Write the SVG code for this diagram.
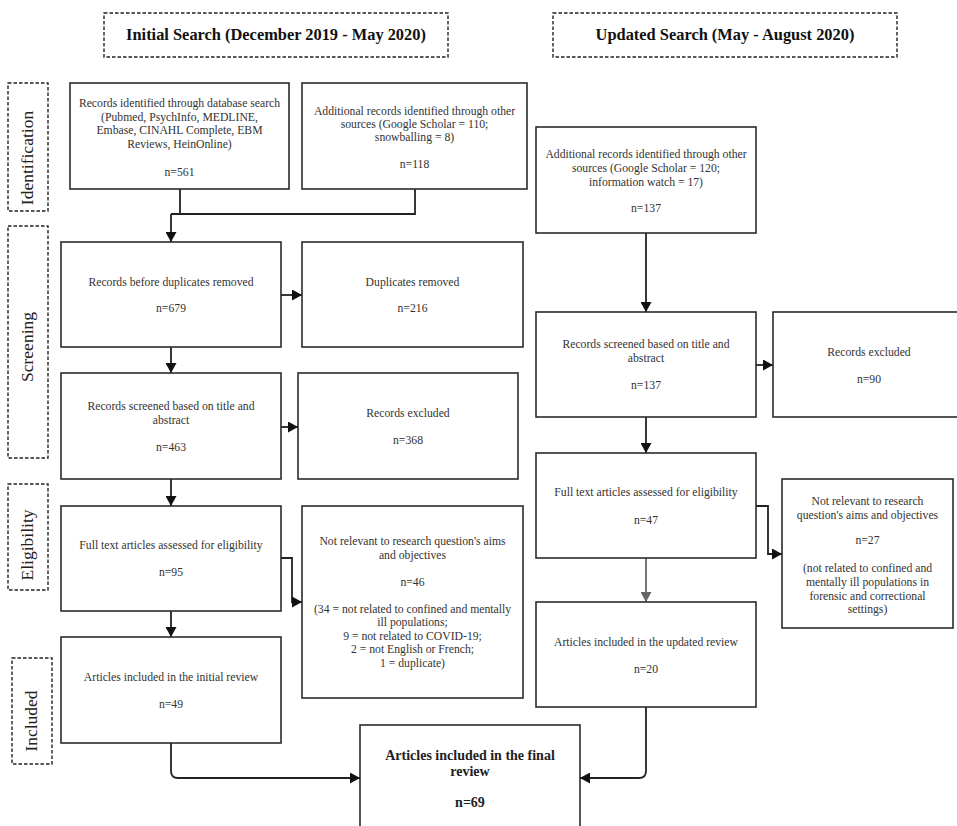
<svg xmlns="http://www.w3.org/2000/svg" width="957" height="826" viewBox="0 0 957 826">
<style>
.box{fill:#fff;stroke:#2b2b2b;stroke-width:1.6}
.dash{fill:#fff;stroke:#222;stroke-width:1.4;stroke-dasharray:3.5 2}
.t{font-family:"Liberation Serif","Times New Roman",serif;font-size:11.7px;fill:#333;text-anchor:middle}
.h{font-family:"Liberation Serif","Times New Roman",serif;font-size:16.4px;font-weight:bold;fill:#111;text-anchor:middle}
.lbl{font-family:"Liberation Serif","Times New Roman",serif;font-size:17.5px;fill:#222;text-anchor:middle}
.fb{font-family:"Liberation Serif","Times New Roman",serif;font-size:14px;font-weight:bold;fill:#222;text-anchor:middle}
.c{fill:none;stroke:#222;stroke-width:1.8}
.cg{fill:none;stroke:#666;stroke-width:1.8}
</style>
<defs>
<marker id="ah" markerUnits="userSpaceOnUse" markerWidth="10" markerHeight="11" refX="10" refY="5.5" orient="auto"><path d="M0,0 L10,5.5 L0,11 z" fill="#111"/></marker>
<marker id="ahg" markerUnits="userSpaceOnUse" markerWidth="10" markerHeight="11" refX="10" refY="5.5" orient="auto"><path d="M0,0 L10,5.5 L0,11 z" fill="#666"/></marker>
</defs>
<rect width="957" height="826" fill="#fff"/>

<g id="header-initial"><rect class="dash" x="104" y="13" width="344" height="44"/><text class="h" x="276" y="40">Initial Search (December 2019 - May 2020)</text></g>
<g id="header-updated"><rect class="dash" x="553" y="13" width="344" height="44"/><text class="h" x="725" y="40">Updated Search (May - August 2020)</text></g>

<g id="label-identification"><rect class="dash" x="8" y="83" width="40" height="128"/><text class="lbl" transform="translate(33,158) rotate(-90)">Identification</text></g>
<g id="label-screening"><rect class="dash" x="8" y="226" width="40" height="232"/><text class="lbl" transform="translate(33,347) rotate(-90)">Screening</text></g>
<g id="label-eligibility"><rect class="dash" x="8" y="484" width="40" height="106"/><text class="lbl" transform="translate(33,545) rotate(-90)">Eligibility</text></g>
<g id="label-included"><rect class="dash" x="12" y="658" width="40" height="106"/><text class="lbl" transform="translate(37,721) rotate(-90)">Included</text></g>

<g id="connectors">
<path class="c" d="M180,189 V214 M415,189 V214 H171"/>
<path class="c" d="M171,214 V242" marker-end="url(#ah)"/>
<path class="c" d="M281,295 H302" marker-end="url(#ah)"/>
<path class="c" d="M171,347 V373" marker-end="url(#ah)"/>
<path class="c" d="M281,427 H298" marker-end="url(#ah)"/>
<path class="c" d="M171,479 V506" marker-end="url(#ah)"/>
<path class="c" d="M281,558 H292 V602 H302" marker-end="url(#ah)"/>
<path class="c" d="M171,611 V637" marker-end="url(#ah)"/>
<path class="c" d="M171,743 V771 Q171,778 178,778 H360" marker-end="url(#ah)"/>
<path class="c" d="M646,233 V312" marker-end="url(#ah)"/>
<path class="c" d="M756,365 H773" marker-end="url(#ah)"/>
<path class="c" d="M646,417 V453" marker-end="url(#ah)"/>
<path class="c" d="M756,506 H768 V554 H782" marker-end="url(#ah)"/>
<path class="cg" d="M646,558 V602" marker-end="url(#ahg)"/>
<path class="c" d="M646,707 V771 Q646,778 639,778 H580" marker-end="url(#ah)"/>
</g>

<g id="db-search"><rect class="box" x="70" y="83" width="219" height="106"/>
<text class="t" x="179.5" y="107">Records identified through database search</text>
<text class="t" x="179.5" y="121">(Pubmed,  PsychInfo, MEDLINE,</text>
<text class="t" x="179.5" y="134">Embase, CINAHL Complete, EBM</text>
<text class="t" x="179.5" y="148">Reviews, HeinOnline)</text>
<text class="t" x="179.5" y="176">n=561</text></g>

<g id="other-sources"><rect class="box" x="302" y="83" width="225" height="106"/>
<text class="t" x="414.5" y="115">Additional records identified through other</text>
<text class="t" x="414.5" y="128">sources (Google Scholar = 110;</text>
<text class="t" x="414.5" y="141">snowballing = 8)</text>
<text class="t" x="414.5" y="168">n=118</text></g>

<g id="before-dup"><rect class="box" x="61" y="242" width="220" height="105"/>
<text class="t" x="171" y="286">Records before duplicates removed</text>
<text class="t" x="171" y="312">n=679</text></g>

<g id="dup-removed"><rect class="box" x="302" y="242" width="221" height="105"/>
<text class="t" x="412.5" y="286">Duplicates removed</text>
<text class="t" x="412.5" y="312">n=216</text></g>

<g id="screened"><rect class="box" x="61" y="373" width="220" height="106"/>
<text class="t" x="171" y="410">Records screened based on title and</text>
<text class="t" x="171" y="424">abstract</text>
<text class="t" x="171" y="451">n=463</text></g>

<g id="excluded"><rect class="box" x="298" y="373" width="220" height="106"/>
<text class="t" x="408" y="417">Records excluded</text>
<text class="t" x="408" y="444">n=368</text></g>

<g id="fulltext"><rect class="box" x="61" y="506" width="220" height="105"/>
<text class="t" x="171" y="549">Full text articles assessed for eligibility</text>
<text class="t" x="171" y="576">n=95</text></g>

<g id="not-relevant"><rect class="box" x="302" y="506" width="221" height="192"/>
<text class="t" x="412.5" y="545">Not relevant to research question's aims</text>
<text class="t" x="412.5" y="559">and objectives</text>
<text class="t" x="412.5" y="586">n=46</text>
<text class="t" x="412.5" y="613">(34 = not related to confined and mentally</text>
<text class="t" x="412.5" y="626">ill populations;</text>
<text class="t" x="412.5" y="640">9 = not related to COVID-19;</text>
<text class="t" x="412.5" y="653">2 = not English or French;</text>
<text class="t" x="412.5" y="667">1 = duplicate)</text></g>

<g id="initial-included"><rect class="box" x="61" y="637" width="220" height="106"/>
<text class="t" x="171" y="681">Articles included in the initial review</text>
<text class="t" x="171" y="708">n=49</text></g>

<g id="upd-sources"><rect class="box" x="536" y="127" width="220" height="106"/>
<text class="t" x="646" y="158">Additional records identified through other</text>
<text class="t" x="646" y="172">sources  (Google Scholar = 120;</text>
<text class="t" x="646" y="186">information watch = 17)</text>
<text class="t" x="646" y="212">n=137</text></g>

<g id="upd-screened"><rect class="box" x="536" y="312" width="220" height="105"/>
<text class="t" x="646" y="348">Records screened based on title and</text>
<text class="t" x="646" y="362">abstract</text>
<text class="t" x="646" y="389">n=137</text></g>

<g id="upd-excluded"><rect class="box" x="773" y="312" width="192" height="105"/>
<text class="t" x="869" y="356">Records excluded</text>
<text class="t" x="869" y="383">n=90</text></g>

<g id="upd-fulltext"><rect class="box" x="536" y="453" width="220" height="105"/>
<text class="t" x="646" y="496">Full text articles assessed for eligibility</text>
<text class="t" x="646" y="524">n=47</text></g>

<g id="upd-not-relevant"><rect class="box" x="782" y="479" width="171" height="149"/>
<text class="t" x="867.5" y="505">Not relevant to research</text>
<text class="t" x="867.5" y="519">question's aims and objectives</text>
<text class="t" x="867.5" y="544">n=27</text>
<text class="t" x="867.5" y="572">(not related to confined and</text>
<text class="t" x="867.5" y="586">mentally ill populations in</text>
<text class="t" x="867.5" y="600">forensic and correctional</text>
<text class="t" x="867.5" y="613">settings)</text></g>

<g id="upd-included"><rect class="box" x="536" y="602" width="220" height="105"/>
<text class="t" x="646" y="646">Articles included in the updated review</text>
<text class="t" x="646" y="673">n=20</text></g>

<g id="final"><rect class="box" x="360" y="725" width="220" height="120"/>
<text class="fb" x="470" y="760">Articles included in the final</text>
<text class="fb" x="470" y="776">review</text>
<text class="fb" x="470" y="807">n=69</text></g>
</svg>
